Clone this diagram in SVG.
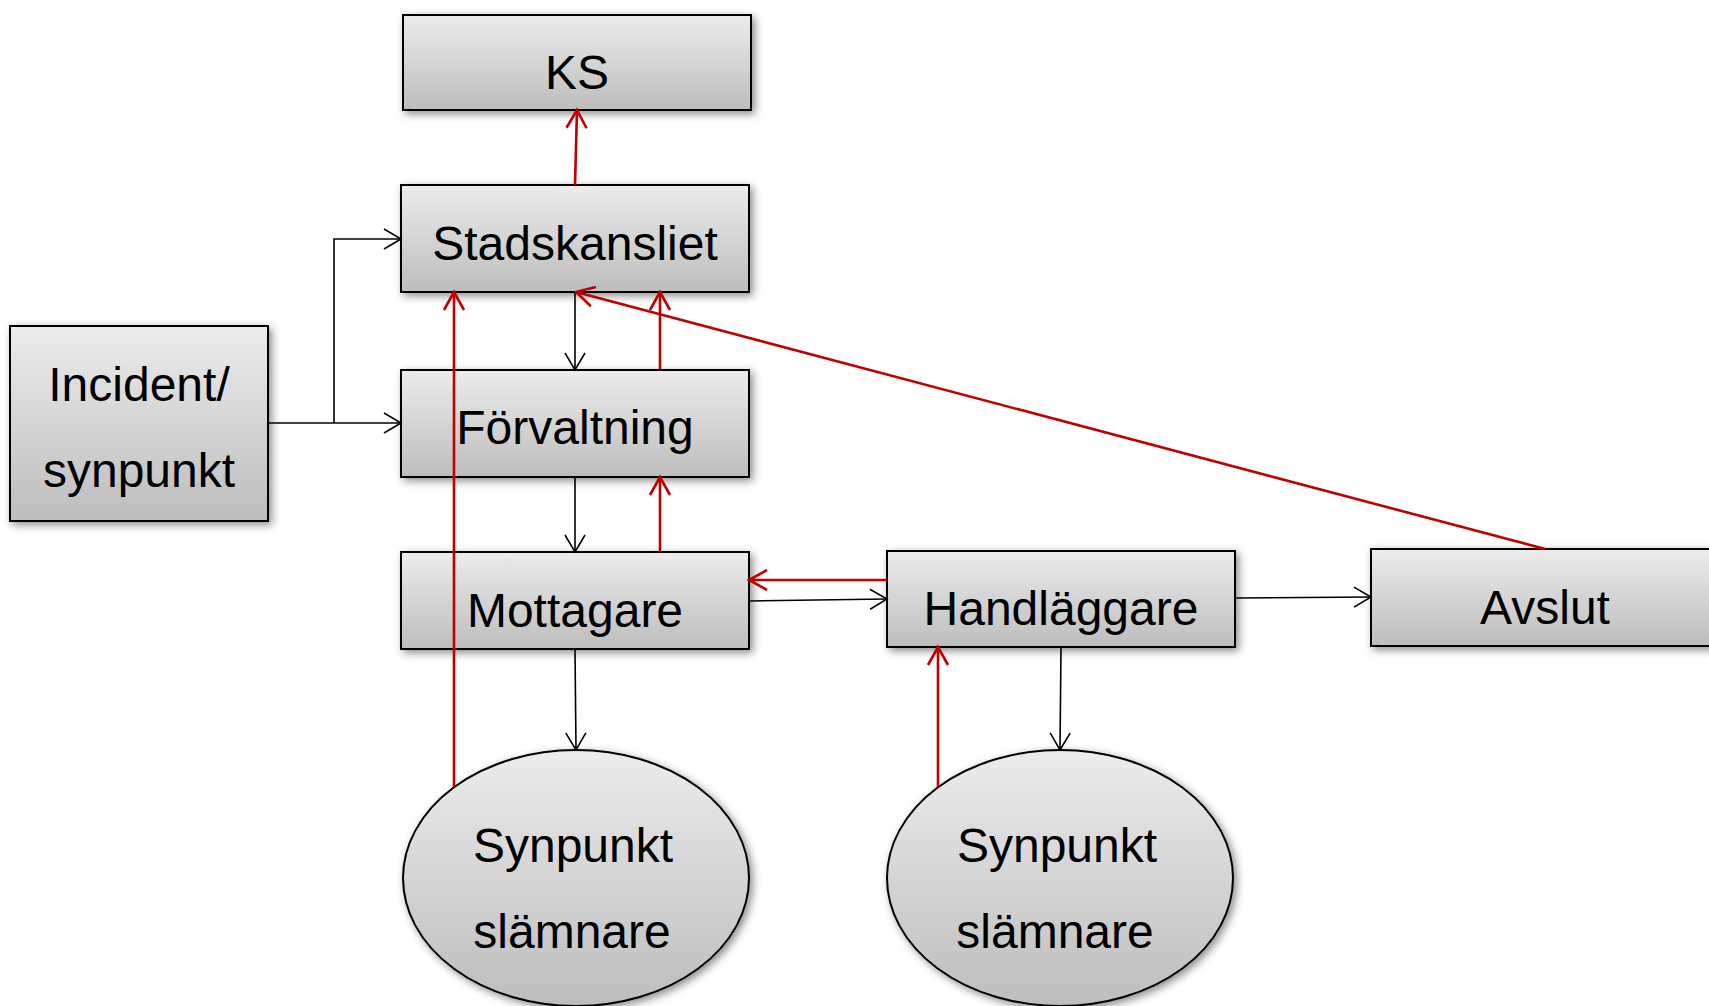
<svg xmlns="http://www.w3.org/2000/svg" width="1709" height="1006" viewBox="0 0 1709 1006">
<style>
.box{fill:url(#g);stroke:#000;stroke-width:2;filter:url(#sh)}
.lbl{font-family:"Liberation Sans",Arial,sans-serif;font-size:48px;fill:#000;text-anchor:middle}
.blk{fill:none;stroke:#000;stroke-width:1.6;marker-end:url(#ab)}
.red{fill:none;stroke:#c00000;stroke-width:2.6;marker-end:url(#ar)}
</style>
<defs>
<linearGradient id="g" x1="0" y1="0" x2="0" y2="1">
<stop offset="0" stop-color="#ececec"/>
<stop offset="1" stop-color="#bdbdbd"/>
</linearGradient>
<filter id="sh" x="-10%" y="-15%" width="125%" height="140%">
<feDropShadow dx="3" dy="3" stdDeviation="4" flood-color="#000" flood-opacity="0.45"/>
</filter>
<marker id="ab" markerUnits="userSpaceOnUse" viewBox="-20 -12 24 24" refX="0" refY="0" markerWidth="24" markerHeight="24" orient="auto">
<path d="M-17,-10 L0,0 L-17,10" fill="none" stroke="#000" stroke-width="1.6"/>
</marker>
<marker id="ar" markerUnits="userSpaceOnUse" viewBox="-20 -12 24 24" refX="0" refY="0" markerWidth="24" markerHeight="24" orient="auto">
<path d="M-18,-10 L0,0 L-18,10" fill="none" stroke="#c00000" stroke-width="2.6"/>
</marker>
</defs>
<rect width="1709" height="1006" fill="#fff"/>
<g id="ks"><rect class="box" x="403" y="15" width="348" height="95"/><text class="lbl" x="577" y="89">KS</text></g>
<g id="stadskansliet"><rect class="box" x="401" y="185" width="348" height="107"/><text class="lbl" x="575" y="260">Stadskansliet</text></g>
<g id="forvaltning"><rect class="box" x="401" y="370" width="348" height="107"/><text class="lbl" x="575" y="444">Förvaltning</text></g>
<g id="mottagare"><rect class="box" x="401" y="552" width="348" height="97"/><text class="lbl" x="575" y="627">Mottagare</text></g>
<g id="handlaggare"><rect class="box" x="887" y="551" width="348" height="96"/><text class="lbl" x="1061" y="625">Handläggare</text></g>
<g id="avslut"><rect class="box" x="1371" y="549" width="348" height="97"/><text class="lbl" x="1545" y="624">Avslut</text></g>
<g id="incident"><rect class="box" x="10" y="326" width="258" height="195"/><text class="lbl" x="139" y="401">Incident/</text><text class="lbl" x="139" y="487">synpunkt</text></g>
<g id="synpunkt1"><ellipse class="box" cx="576" cy="878" rx="173" ry="128"/><text class="lbl" x="573" y="862">Synpunkt</text><text class="lbl" x="572" y="948">slämnare</text></g>
<g id="synpunkt2"><ellipse class="box" cx="1060" cy="878" rx="173" ry="128"/><text class="lbl" x="1057" y="862">Synpunkt</text><text class="lbl" x="1055" y="948">slämnare</text></g>
<g id="connectors">
<path class="blk" d="M268,423 H401"/>
<path class="blk" d="M334,423 V239 H401"/>
<path class="blk" d="M575,292 V370"/>
<path class="blk" d="M575,477 V552"/>
<path class="blk" d="M575,649 L576,750"/>
<path class="blk" d="M749,601 L887,599"/>
<path class="blk" d="M1235,598 L1371,597"/>
<path class="blk" d="M1061,647 L1060,750"/>
<path class="red" d="M575,185 L577,110"/>
<path class="red" d="M660,370 V292"/>
<path class="red" d="M660,552 V477"/>
<path class="red" d="M454,787 V292"/>
<path class="red" d="M887,580 H749"/>
<path class="red" d="M938,787 V647"/>
<path class="red" d="M1545,549 L576,292"/>
</g>
</svg>
